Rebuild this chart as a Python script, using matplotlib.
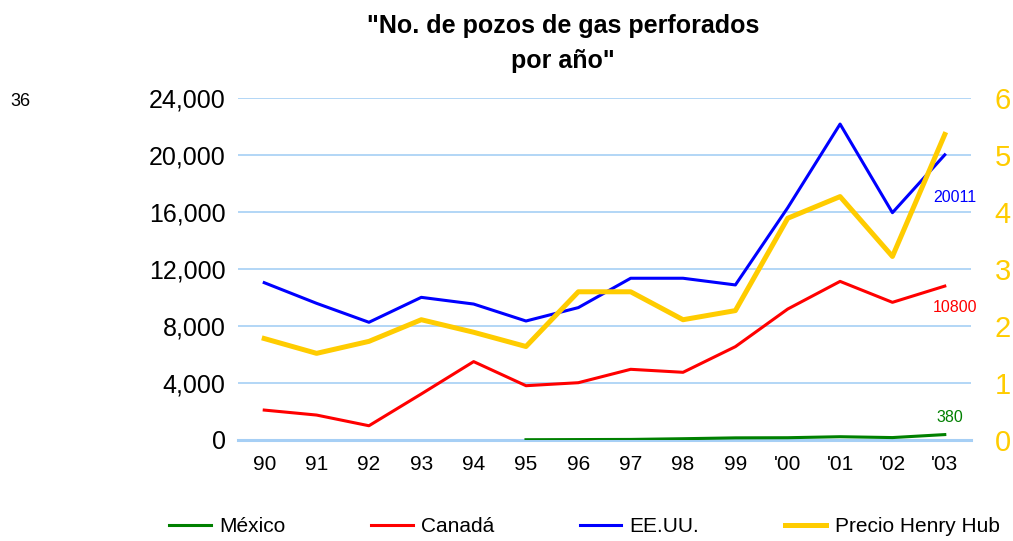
import matplotlib

matplotlib.use("Agg")
import matplotlib.pyplot as plt
from matplotlib.ticker import FuncFormatter

plt.rcParams["font.family"] = ["Liberation Sans", "DejaVu Sans"]

years = ["90", "91", "92", "93", "94", "95", "96", "97", "98", "99", "'00", "'01", "'02", "'03"]
eeuu = [11040, 9590, 8260, 10010, 9540, 8350, 9290, 11350, 11350, 10880, 16300, 22170, 15950, 20011]
canada = [2100, 1750, 1000, 3230, 5500, 3810, 4020, 4960, 4750, 6550, 9190, 11130, 9660, 10800]
mexico_years = years[5:]
mexico = [20, 30, 40, 90, 150, 160, 230, 170, 380]
henry_hub = [1.78, 1.52, 1.73, 2.11, 1.89, 1.64, 2.60, 2.60, 2.11, 2.27, 3.89, 4.27, 3.22, 5.36]

GREEN = "#008000"
RED = "#FF0000"
BLUE = "#0000FF"
GOLD = "#FFCC00"
GRID = "#A6CFF5"

fig = plt.figure(figsize=(10.13, 5.41), dpi=100)
ax = fig.add_axes([0.235, 0.1867, 0.7235, 0.6322])
x = list(range(len(years)))
xm = x[5:]

l_mx, = ax.plot(xm, mexico, color=GREEN, lw=2.2, label="México", zorder=4)
l_ca, = ax.plot(x, canada, color=RED, lw=2.2, label="Canadá", zorder=4)
l_us, = ax.plot(x, eeuu, color=BLUE, lw=2.2, label="EE.UU.", zorder=4)

ax.set_xlim(-0.5, len(years) - 0.5)
ax.set_ylim(0, 24000)
ax.set_yticks(range(0, 24001, 4000))
ax.yaxis.set_major_formatter(FuncFormatter(lambda v, p: f"{int(v):,}"))
ax.set_xticks(x)
ax.set_xticklabels(years)
ax.grid(axis="y", color=GRID, lw=1.2, zorder=0)
ax.set_axisbelow(True)
for s in ["top", "left", "right"]:
    ax.spines[s].set_visible(False)
ax.spines["bottom"].set_color(GRID)
ax.spines["bottom"].set_linewidth(2.2)
ax.tick_params(axis="both", length=0)
ax.tick_params(axis="y", labelsize=18, pad=9)
ax.tick_params(axis="x", labelsize=15, pad=11)

ax2 = ax.twinx()
l_hh, = ax2.plot(x, henry_hub, color=GOLD, lw=3.6, label="Precio Henry Hub", zorder=5)
ax2.set_ylim(0, 6)
ax2.set_yticks(range(0, 7))
for s in ["top", "left", "right", "bottom"]:
    ax2.spines[s].set_visible(False)
ax2.tick_params(axis="y", length=0, labelsize=21, labelcolor=GOLD, pad=17)

ax.text(13.2, 17000, "20011", color=BLUE, fontsize=11.5, ha="center", va="center")
ax.text(13.2, 9300, "10800", color=RED, fontsize=11.5, ha="center", va="center")
ax.text(13.1, 1550, "380", color=GREEN, fontsize=11.5, ha="center", va="center")

fig.text(0.556, 0.975, "\"No. de pozos de gas perforados\npor año\"", ha="center", va="top",
         fontsize=18, fontweight="bold", linespacing=1.6)
fig.text(0.01, 0.812, "36", fontsize=13, va="center")

fig.legend(handles=[l_mx, l_ca, l_us, l_hh], loc="center", bbox_to_anchor=(0.577, 0.027),
           ncol=4, frameon=False, fontsize=15, handlelength=2.0, handletextpad=0.4,
           columnspacing=4.1)

fig.savefig("out.png", dpi=100)
